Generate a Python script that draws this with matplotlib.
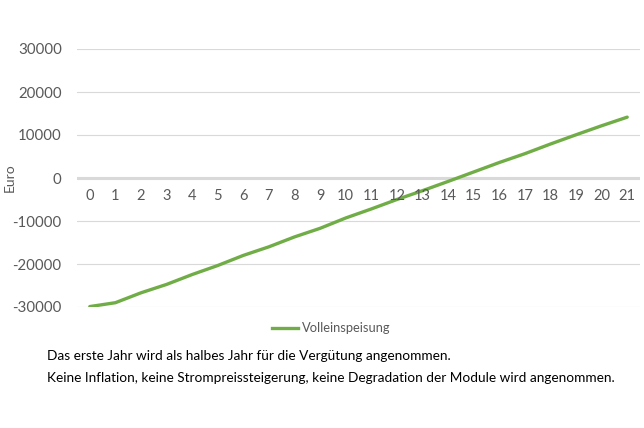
import numpy as np
import matplotlib
matplotlib.use("Agg")
import matplotlib.pyplot as plt

plt.rcParams['font.family'] = ['Lato', 'DejaVu Sans']

# data
years = list(range(0, 22))
euro = [-29900, -29000, -26700, -24750, -22450, -20350, -18000, -16000,
        -13700, -11700, -9300, -7200, -5000, -2950, -800, 1400, 3600,
        5650, 7900, 10050, 12150, 14150]
series_name = "Volleinspeisung"
y_ticks = [-30000, -20000, -10000, 0, 10000, 20000, 30000]
note_lines = [
    "Das erste Jahr wird als halbes Jahr für die Vergütung angenommen.",
    "Keine Inflation, keine Strompreissteigerung, keine Degradation der Module wird angenommen.",
]

grey = '#595959'
green = '#70AD47'

fig = plt.figure(figsize=(6.44, 4.28), dpi=100)
W, H = 644, 428
ax = fig.add_axes([77 / W, 1 - 307 / H, (640 - 77) / W, (307 - 49) / H])

x = np.arange(len(years))
ax.plot(x, euro, color=green, lw=2.4, solid_capstyle='round', zorder=3)

ax.set_xlim(-0.5, len(years) - 0.5)
ax.set_ylim(-30000, 30000)
ax.set_yticks(y_ticks)
ax.set_yticklabels([str(v) for v in y_ticks])
for v in y_ticks:
    if v == 0:
        ax.axhline(v, color='#d9d9d9', lw=2.2, zorder=2)
    else:
        ax.axhline(v, color='#d9d9d9', lw=0.8, zorder=1)

# category labels sit just under the zero line, like Excel does
ax.set_xticks([])
for xi, yr in zip(x, years):
    ax.text(xi, -4300, str(yr), ha='center', va='center', fontsize=10.5,
            color=grey)

for s in ax.spines.values():
    s.set_visible(False)
ax.tick_params(axis='y', length=0, pad=11, labelsize=10.8, labelcolor=grey)
fig.text(10 / W, 1 - 178 / H, "Euro", rotation=90, ha='center', va='center',
         fontsize=10, color=grey)

# legend
leg_y = 1 - 328 / H
fig.lines.append(plt.Line2D([272 / W, 298 / W], [leg_y, leg_y], color=green,
                            lw=2.4, transform=fig.transFigure))
fig.text(302 / W, leg_y, series_name, ha='left', va='center', fontsize=9.3,
         color=grey)

fig.text(47 / W, 1 - 356 / H, note_lines[0], ha='left', va='center',
         fontsize=9.8, color='black')
fig.text(47 / W, 1 - 378 / H, note_lines[1], ha='left', va='center',
         fontsize=9.8, color='black')

fig.savefig("out.png", dpi=100)
